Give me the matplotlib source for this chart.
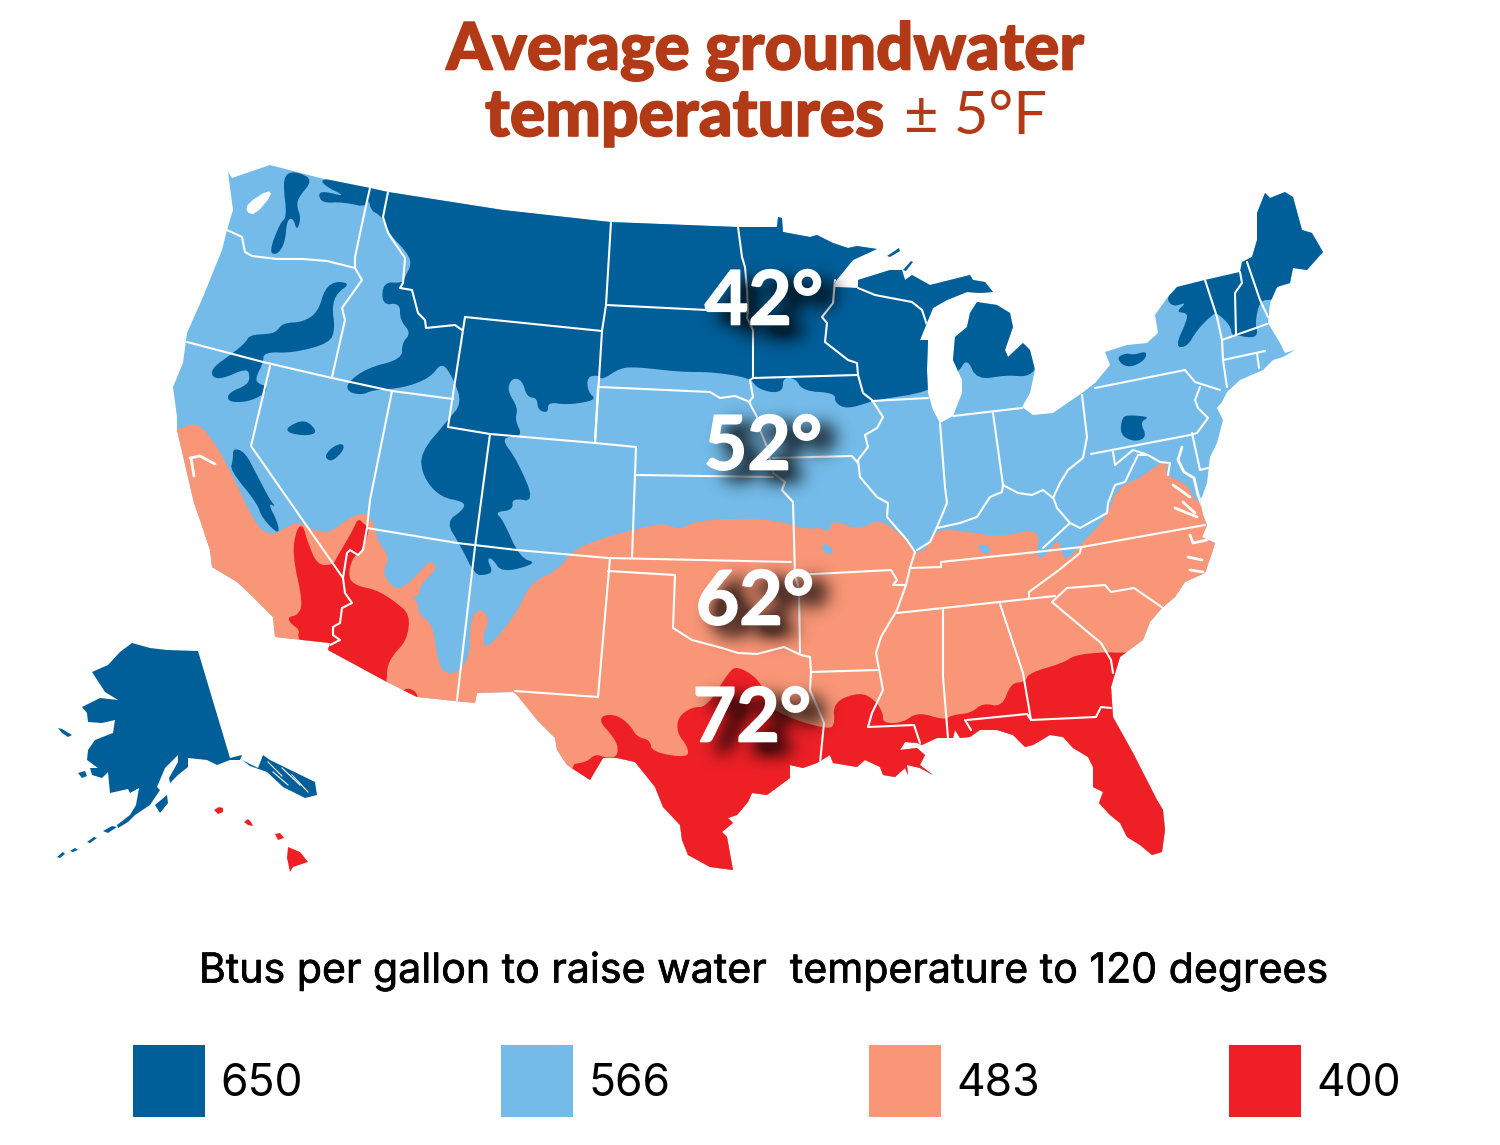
"""
Average groundwater temperatures map, drawn on pixel-sized axes.
"""

import matplotlib

matplotlib.use("Agg")
import matplotlib.patheffects as path_effects
import matplotlib.pyplot as plt
import numpy as np
from matplotlib.patches import Polygon, Rectangle

DARK_BLUE = "#005E99"
LIGHT_BLUE = "#74BBE9"
SALMON = "#F89677"
RED = "#EE2026"
TITLE_COLOR = "#B33A17"
SANS = "Inter"

LEGEND_VALUES = ["650", "566", "483", "400"]
LEGEND_COLORS = [DARK_BLUE, LIGHT_BLUE, SALMON, RED]
LEGEND_SWATCH_X = [133, 501, 869, 1229]
TEMPERATURE_LABELS = ["42°", "52°", "62°", "72°"]
TEMPERATURE_X = [764, 763, 755, 752]
TEMPERATURE_Y = [303, 448, 603, 720]

# Outline of the lower 48, clockwise from the Washington coast
CONUS_OUTLINE = [
    (228, 172), (232, 178), (270, 165), (320, 178), (370, 188), (388, 192), (503, 210), (610, 222), (738, 227),
    (777, 227), (778, 217), (782, 218), (783, 232), (810, 237), (817, 235), (833, 243), (848, 248),
    (857, 246), (877, 249), (853, 260), (835, 282), (833, 287), (858, 288), (858, 280), (890, 270),
    (902, 270), (905, 280), (912, 275), (930, 285), (950, 280), (970, 275), (973, 280), (985, 282),
    (993, 292), (980, 293), (967, 292), (947, 300), (933, 308), (920, 340), (928, 340), (927, 370),
    (928, 393), (933, 410), (940, 423), (953, 416), (962, 393), (962, 380), (953, 360), (955, 337),
    (967, 327), (970, 313), (977, 302), (997, 305), (1010, 313), (1013, 327), (1005, 350), (1008, 357),
    (1023, 343), (1030, 350), (1035, 370), (1030, 393), (1022, 407), (1033, 415), (1053, 413),
    (1082, 393), (1095, 383), (1110, 365), (1105, 352), (1127, 345), (1147, 343), (1158, 333),
    (1155, 315), (1167, 298), (1177, 287), (1205, 280), (1240, 272), (1242, 262), (1252, 257),
    (1257, 240), (1257, 213), (1265, 193), (1270, 198), (1285, 192), (1293, 197), (1302, 230),
    (1312, 233), (1323, 252), (1307, 270), (1293, 268), (1290, 283), (1277, 287), (1270, 303),
    (1268, 323), (1280, 343), (1285, 353), (1295, 350), (1283, 357), (1273, 360), (1263, 370),
    (1240, 380), (1227, 392), (1222, 402), (1217, 408), (1223, 420), (1217, 443), (1210, 457),
    (1207, 483), (1202, 497), (1200, 500), (1203, 515), (1207, 525), (1202, 537), (1215, 543),
    (1212, 553), (1205, 573), (1185, 582), (1175, 597), (1162, 608), (1150, 622), (1143, 640),
    (1120, 657), (1111, 687), (1113, 717), (1133, 753), (1157, 800), (1163, 810), (1165, 830),
    (1162, 852), (1152, 855), (1140, 845), (1127, 837), (1120, 823), (1110, 815), (1099, 803),
    (1103, 792), (1093, 787), (1093, 767), (1088, 757), (1073, 748), (1063, 737), (1050, 735),
    (1033, 745), (1025, 747), (1013, 735), (997, 730), (980, 730), (970, 737), (960, 738), (955, 730),
    (953, 738), (947, 738), (937, 738), (922, 745), (917, 743), (905, 742), (900, 750), (917, 748),
    (925, 755), (920, 765), (933, 775), (920, 768), (907, 765), (908, 775), (905, 768), (895, 777),
    (883, 775), (880, 767), (865, 760), (857, 767), (833, 763), (830, 755), (817, 763), (803, 768),
    (790, 765), (790, 778), (767, 795), (752, 793), (748, 802), (737, 815), (728, 818), (733, 823),
    (722, 832), (727, 837), (733, 870), (710, 867), (688, 855), (682, 840), (680, 825), (663, 807),
    (655, 787), (635, 762), (617, 758), (603, 758), (590, 780), (567, 765), (557, 750), (555, 738),
    (537, 720), (517, 695), (513, 692), (477, 693), (475, 703), (455, 701), (417, 697), (387, 682),
    (328, 650), (330, 643), (275, 637), (273, 617), (253, 597), (237, 582), (212, 567), (210, 550),
    (200, 520), (194, 503), (177, 430), (177, 417), (173, 387), (183, 363), (187, 333), (203, 297),
    (222, 250), (227, 230), (233, 210),
]

SALMON_REGION = [
    (150, 430), (177, 430), (197, 422), (213, 440), (230, 470), (247, 507), (260, 530), (273, 535),
    (285, 528), (298, 522), (313, 530), (330, 533), (350, 517), (367, 512), (375, 527), (377, 540),
    (390, 558), (382, 572), (393, 588), (403, 588), (420, 572), (430, 560), (438, 568), (420, 585),
    (420, 595), (412, 597), (418, 602), (418, 613), (433, 625), (437, 657), (443, 673), (457, 673),
    (470, 657), (470, 620), (480, 607), (490, 620), (483, 633), (485, 652), (517, 613), (530, 583),
    (558, 570), (573, 550), (603, 538), (633, 530), (663, 523), (680, 530), (697, 520), (767, 518),
    (810, 530), (817, 527), (830, 532), (832, 520), (860, 530), (880, 518), (907, 540), (915, 555),
    (928, 547), (938, 528), (967, 532), (1000, 537), (1040, 528), (1036, 557), (1044, 558), (1059, 537),
    (1063, 558), (1069, 558), (1082, 543), (1107, 517), (1117, 488), (1140, 478), (1160, 463),
    (1168, 463), (1165, 475), (1178, 480), (1190, 488), (1192, 497), (1210, 512), (1300, 512),
    (1300, 1000), (100, 1000), (100, 430),
]
SALMON_HOLES = [
    [(822, 545), (827, 544), (834, 551), (829, 555), (823, 551)],
    [(977, 546), (985, 544), (991, 549), (988, 555), (982, 552)],
]

RED_REGIONS = [
    [
        (297, 528), (303, 525), (307, 540), (317, 565), (333, 565), (337, 557), (353, 530), (358, 518),
        (365, 525), (370, 527), (363, 550), (352, 558), (348, 578), (357, 586), (377, 590), (397, 603),
        (410, 615), (407, 640), (393, 655), (387, 667), (387, 682), (380, 700), (320, 670), (297, 638),
        (300, 630), (290, 623), (288, 617), (298, 615), (303, 603), (292, 553),
    ],
    [(402, 690), (410, 688), (418, 694), (417, 705), (402, 705)],
    [
        (567, 765), (587, 762), (595, 754), (607, 758), (617, 757), (618, 745), (610, 733), (600, 722),
        (603, 715), (617, 715), (630, 725), (637, 737), (650, 740), (652, 752), (688, 758), (688, 747),
        (677, 733), (678, 717), (692, 707), (707, 707), (730, 670), (738, 667), (753, 675), (763, 687),
        (768, 707), (795, 720), (824, 728), (835, 727), (833, 702), (860, 692), (875, 700), (883, 713),
        (883, 723), (902, 723), (918, 712), (944, 720), (952, 715), (971, 713), (983, 703), (1002, 707),
        (1011, 683), (1025, 682), (1029, 673), (1063, 663), (1075, 655), (1105, 652), (1120, 653),
        (1300, 650), (1300, 1000), (500, 1000),
    ],
]

DARK_REGIONS = [
    # Northern plains, Rockies and upper Midwest
    [
        (370, 160), (367, 208), (383, 217), (390, 235), (405, 250), (412, 263), (405, 277), (403, 283),
        (383, 282), (382, 305), (400, 303), (400, 320), (411, 333), (402, 343), (402, 359), (367, 368),
        (347, 383), (348, 392), (362, 395), (373, 390), (403, 388), (430, 378), (442, 362), (453, 378),
        (462, 403), (448, 420), (420, 453), (423, 477), (440, 497), (465, 502), (463, 510), (446, 522),
        (460, 545), (475, 575), (485, 575), (493, 572), (487, 559), (492, 558), (502, 573), (538, 563),
        (520, 558), (503, 520), (495, 512), (513, 510), (512, 498), (535, 502), (517, 460), (500, 437),
        (523, 437), (515, 420), (518, 408), (507, 390), (512, 378), (522, 380), (527, 397), (537, 398),
        (538, 410), (548, 413), (548, 402), (568, 405), (597, 400), (588, 392), (587, 377), (598, 375),
        (602, 380), (620, 368), (637, 367), (680, 372), (713, 372), (750, 378), (757, 388), (773, 393),
        (783, 390), (783, 378), (795, 378), (803, 391), (835, 393), (835, 403), (847, 409), (870, 402),
        (877, 400), (928, 392), (958, 373), (967, 358), (977, 380), (1007, 375), (1027, 377), (1037, 368),
        (1060, 300), (1040, 200), (800, 170), (400, 150),
    ],
    # Washington
    [
        (287, 173), (298, 172), (313, 180), (298, 198), (297, 207), (301, 218), (297, 231), (293, 218),
        (287, 220), (285, 243), (277, 255), (269, 252), (280, 223), (287, 217), (283, 183),
    ],
    [
        (322, 178), (370, 180), (370, 208), (343, 202), (323, 203), (318, 195), (323, 191), (347, 197),
        (323, 185),
    ],
    # Oregon and northern California
    [
        (350, 284), (337, 281), (325, 288), (318, 312), (303, 322), (283, 323), (276, 332), (268, 334),
        (250, 335), (245, 343), (233, 353), (212, 368), (212, 377), (222, 379), (247, 368), (250, 377),
        (247, 385), (228, 393), (228, 402), (247, 402), (263, 395), (268, 387), (257, 383), (256, 377),
        (263, 363), (264, 352), (293, 353), (330, 343), (335, 328), (332, 307), (337, 293),
    ],
    # Nevada
    [(287, 427), (305, 419), (318, 432), (307, 436), (288, 433)],
    [(343, 443), (344, 450), (332, 462), (324, 457), (332, 447)],
    # Central California
    [
        (233, 448), (245, 452), (257, 475), (270, 500), (276, 507), (268, 503), (278, 523), (279, 535),
        (262, 518), (257, 503), (230, 470), (233, 460),
    ],
    # New York and Pennsylvania
    [
        (1117, 357), (1127, 353), (1133, 355), (1147, 351), (1145, 360), (1132, 367), (1122, 365),
    ],
    [
        (1122, 417), (1130, 415), (1150, 417), (1140, 422), (1147, 437), (1135, 442), (1120, 435),
    ],
    # New England
    [
        (1166, 298), (1177, 287), (1240, 180), (1340, 180), (1340, 290), (1273, 300), (1260, 300),
        (1255, 323), (1258, 334), (1252, 338), (1235, 335), (1232, 335), (1230, 325), (1217, 313),
        (1212, 315), (1197, 330), (1187, 347), (1175, 347), (1187, 320), (1187, 313), (1176, 312),
        (1187, 302), (1173, 307),
    ],
]
SUPERIOR_ISLANDS = [
    [(887, 256), (899, 248), (900, 251), (890, 257)],
    [(903, 270), (911, 261), (913, 262), (906, 271)],
]

ALASKA_PARTS = [
    [
        (132, 643), (150, 648), (167, 650), (198, 651), (230, 758), (242, 755), (240, 760), (230, 760),
        (217, 765), (207, 760), (188, 758), (188, 767), (178, 775), (170, 783), (169, 778), (178, 762),
        (178, 755), (165, 768), (157, 787), (160, 790), (150, 805), (135, 815), (128, 822), (118, 828),
        (117, 825), (130, 815), (136, 805), (139, 788), (130, 793), (128, 789), (110, 793), (108, 772),
        (102, 778), (92, 775), (90, 768), (98, 768), (87, 760), (88, 750), (95, 740), (113, 733),
        (115, 720), (102, 723), (88, 722), (87, 713), (82, 707), (100, 698), (118, 700), (105, 692),
        (92, 672), (108, 665), (120, 652),
    ],
    [(58, 728), (62, 729), (72, 735), (68, 737), (62, 733)],
    [(78, 773), (85, 771), (87, 776), (82, 778)],
    [(155, 805), (167, 795), (168, 803), (160, 813)],
    [(103, 831), (112, 826), (117, 827), (108, 833)],
    [(87, 842), (94, 837), (97, 838), (90, 843)],
    [(70, 851), (75, 848), (78, 850), (73, 852)],
    [(57, 857), (63, 852), (65, 854), (60, 858)],
    [(242, 760), (258, 768), (263, 755), (270, 760), (315, 782), (317, 795), (305, 798), (283, 787), (267, 772), (250, 766)],
]
ALASKA_FJORDS = [
    [(268, 762), (282, 776)],
    [(273, 772), (288, 785)],
    [(282, 768), (300, 785)],
    [(292, 775), (308, 792)],
]

HAWAII_PARTS = [
    [(214, 810), (219, 807), (223, 808), (223, 812), (218, 814)],
    [(244, 822), (248, 819), (251, 822), (253, 826), (248, 825)],
    [(275, 834), (280, 833), (284, 838), (278, 840)],
    [(288, 847), (300, 852), (308, 862), (293, 867), (290, 872), (287, 858)],
]

STATE_LINES = [
    [(227, 230), (242, 237), (245, 252), (252, 256), (277, 259), (303, 259), (327, 261), (355, 268)],
    [(370, 188), (365, 210), (355, 257), (355, 268), (362, 280), (342, 308), (345, 320), (332, 377)],
    [(187, 342), (263, 362), (332, 378), (392, 391), (453, 399)],
    [(270, 366), (251, 446), (343, 578)],
    [(392, 391), (370, 500), (367, 528), (363, 550), (358, 555), (350, 550), (347, 553), (343, 578),
     (345, 593), (352, 603), (342, 608), (340, 623), (333, 627), (333, 635), (340, 640), (330, 645)],
    [(388, 192), (383, 217), (388, 233), (405, 258), (403, 283), (400, 288), (412, 290), (418, 313),
     (425, 320), (426, 328), (455, 325), (462, 330)],
    [(465, 317), (602, 331), (595, 443), (490, 434), (448, 427), (465, 317)],
    [(611, 222), (606, 305), (602, 331)],
    [(606, 305), (707, 310), (748, 312)],
    [(738, 227), (742, 257), (745, 267), (747, 290), (748, 312), (747, 318), (753, 330), (753, 378),
     (750, 380), (753, 397), (749, 402), (757, 417), (760, 430), (767, 447), (773, 473), (785, 482),
     (782, 490), (793, 502), (795, 575), (799, 590), (800, 653)],
    [(600, 387), (710, 392), (720, 398), (735, 396), (750, 402)],
    [(753, 378), (857, 375)],
    [(835, 280), (833, 303), (822, 317), (827, 323), (825, 342), (848, 360), (857, 363), (858, 375),
     (863, 393), (872, 400), (883, 417), (877, 428), (865, 435), (868, 447), (858, 460), (860, 477),
     (877, 497), (888, 503), (887, 517), (907, 540), (915, 552), (910, 568), (906, 585)],
    [(858, 288), (875, 295), (912, 302), (922, 310), (927, 325)],
    [(872, 401), (928, 398)],
    [(773, 458), (852, 456), (858, 463)],
    [(636, 475), (773, 477)],
    [(636, 447), (635, 475), (632, 558)],
    [(598, 387), (595, 443)],
    [(595, 443), (636, 447)],
    [(367, 528), (457, 543), (517, 550), (608, 558), (791, 562)],
    [(490, 434), (475, 547), (457, 700)],
    [(610, 558), (598, 697), (515, 691)],
    [(608, 571), (675, 575), (673, 628), (692, 640), (722, 648), (738, 653), (757, 654), (784, 647),
     (801, 655), (810, 657), (811, 672), (810, 690), (824, 723), (820, 763)],
    [(795, 575), (891, 570), (897, 580), (893, 585), (906, 585), (897, 610), (881, 637), (876, 653),
     (883, 690), (872, 713), (868, 727), (914, 725), (920, 743)],
    [(811, 672), (877, 670)],
    [(897, 613), (1055, 596)],
    [(910, 568), (941, 567), (941, 562), (1036, 552), (1082, 547), (1205, 525)],
    [(943, 610), (943, 677), (948, 738)],
    [(1000, 604), (1023, 673), (1031, 720)],
    [(967, 720), (1027, 714), (1031, 720), (1096, 717), (1101, 707), (1111, 708)],
    [(965, 720), (971, 730)],
    [(1052, 602), (1065, 613), (1101, 643), (1111, 660), (1113, 673)],
    [(1052, 602), (1067, 588), (1105, 585), (1111, 592), (1134, 588), (1163, 608)],
    [(1029, 598), (1029, 592), (1059, 570), (1080, 553), (1081, 547)],
    [(940, 423), (945, 487), (947, 503), (937, 527), (930, 542), (917, 550)],
    [(937, 528), (960, 523), (977, 517), (990, 497), (1002, 492), (1003, 485), (1018, 493), (1032, 495),
     (1043, 490), (1053, 498), (1060, 483), (1068, 470), (1083, 458), (1087, 437), (1082, 395)],
    [(993, 413), (1003, 485)],
    [(953, 416), (1022, 408)],
    [(1053, 497), (1057, 508), (1070, 523), (1080, 528), (1107, 513), (1108, 503), (1115, 485),
     (1125, 482), (1138, 455), (1148, 455), (1160, 462), (1170, 463), (1168, 475)],
    [(1070, 523), (1043, 548)],
    [(1091, 454), (1190, 435)],
    [(1095, 388), (1185, 370), (1195, 382), (1220, 390)],
    [(1200, 387), (1195, 400), (1198, 408), (1208, 418), (1197, 433), (1190, 435)],
    [(1192, 433), (1200, 470), (1212, 467)],
    [(1113, 452), (1115, 465), (1133, 450), (1148, 455)],
    [(1205, 280), (1217, 317), (1222, 340), (1223, 360), (1227, 387)],
    [(1240, 272), (1242, 283), (1235, 293), (1236, 335)],
    [(1247, 262), (1260, 300), (1268, 317)],
    [(1222, 340), (1267, 324)],
    [(1223, 360), (1265, 351)],
    [(1257, 353), (1259, 368)],
]

# Bays and inlets left white inside the outline
WATER_LINES = [
    [(1182, 447), (1178, 460), (1184, 472), (1194, 478), (1198, 495), (1204, 510)],
    [(1225, 400), (1245, 392), (1258, 384)],
    [(1173, 485), (1190, 497)],
    [(1175, 508), (1197, 517)],
    [(1183, 502), (1195, 513)],
    [(1190, 535), (1193, 543), (1207, 540)],
    [(1188, 557), (1202, 560)],
    [(1190, 570), (1203, 572)],
    [(190, 458), (200, 456), (215, 464)],
    [(191, 458), (194, 476)],
]
PUGET_SOUND = [(248, 203), (268, 190), (272, 195), (255, 215), (246, 212)]


def smooth_ring(points: list, rounds: int = 2) -> np.ndarray:
    """
    Rounds the corners of a closed ring by corner cutting.
    """
    ring = np.asarray(points, dtype=float)
    for _ in range(rounds):
        following = np.roll(ring, -1, axis=0)
        ring = np.column_stack(
            [0.75 * ring + 0.25 * following, 0.25 * ring + 0.75 * following]
        ).reshape(-1, 2)
    return ring


def add_region(axis, points, color, clip_patch=None, rounds=2):
    """
    Adds one filled map region, optionally clipped to another patch.
    """
    patch = Polygon(smooth_ring(points, rounds), closed=True, facecolor=color, edgecolor="none")
    axis.add_patch(patch)
    if clip_patch is not None:
        patch.set_clip_path(clip_patch)
    return patch


def draw_lines(axis, lines, width, clip_patch):
    """
    Draws white polylines clipped to the outline.
    """
    for line in lines:
        xs, ys = zip(*line)
        drawn, = axis.plot(xs, ys, color="white", lw=width, solid_joinstyle="round", solid_capstyle="round")
        drawn.set_clip_path(clip_patch)


def draw_map(axis):
    """
    Draws the lower 48 plus Alaska and Hawaii.
    """
    outline = Polygon(CONUS_OUTLINE, closed=True, facecolor=LIGHT_BLUE, edgecolor="none")
    axis.add_patch(outline)

    for region in DARK_REGIONS:
        add_region(axis, region, DARK_BLUE, outline)
    add_region(axis, SALMON_REGION, SALMON, outline)
    for hole in SALMON_HOLES:
        add_region(axis, hole, LIGHT_BLUE, outline)
    for region in RED_REGIONS:
        add_region(axis, region, RED, outline)

    draw_lines(axis, STATE_LINES, 1.5, outline)
    draw_lines(axis, WATER_LINES, 2.0, outline)
    add_region(axis, PUGET_SOUND, "white", outline, rounds=1)

    for part in SUPERIOR_ISLANDS:
        axis.add_patch(Polygon(part, closed=True, facecolor=DARK_BLUE, edgecolor="none"))
    for part in ALASKA_PARTS:
        axis.add_patch(Polygon(part, closed=True, facecolor=DARK_BLUE, edgecolor="none"))
    for fjord in ALASKA_FJORDS:
        xs, ys = zip(*fjord)
        axis.plot(xs, ys, color="white", lw=0.8)
    for part in HAWAII_PARTS:
        axis.add_patch(Polygon(part, closed=True, facecolor=RED, edgecolor="none"))


def blur(values: np.ndarray, sigma: float) -> np.ndarray:
    """
    Gaussian blur of a 2D array, one axis at a time.
    """
    offsets = np.arange(-3 * int(sigma), 3 * int(sigma) + 1)
    kernel = np.exp(-0.5 * (offsets / sigma) ** 2)
    kernel /= kernel.sum()
    for axis_index in (0, 1):
        values = np.apply_along_axis(np.convolve, axis_index, values, kernel, mode="same")
    return values


def label_shadow(label: str) -> np.ndarray:
    """
    Renders a label off screen and returns a blurred black RGBA crop of it.
    """
    scratch = plt.figure(figsize=(2.6, 1.6), dpi=100)
    scratch.text(0.5, 0.5, label, color="black", fontsize=54, fontweight="bold", family="Lato",
                 ha="center", va="center")
    scratch.canvas.draw()
    mask = 1.0 - np.asarray(scratch.canvas.buffer_rgba())[:, :, 0] / 255.0
    plt.close(scratch)
    shade = np.clip(blur(mask, 9.0) * 1.5, 0, 0.65)
    rgba = np.zeros(shade.shape + (4,))
    rgba[:, :, 3] = shade
    return rgba


def draw_temperatures(axis):
    """
    Draws the white temperature labels with their soft offset shadow.
    """
    outline = [path_effects.withStroke(linewidth=1.2, foreground="white")]
    for label, x_pos, y_pos in zip(TEMPERATURE_LABELS, TEMPERATURE_X, TEMPERATURE_Y):
        shadow = label_shadow(label)
        height, width = shadow.shape[:2]
        center_x, center_y = x_pos + 15, y_pos + 10
        axis.imshow(shadow, extent=(center_x - width / 2, center_x + width / 2,
                                    center_y + height / 2, center_y - height / 2),
                    aspect="auto", zorder=3, interpolation="bilinear")
        axis.text(x_pos, y_pos, label, color="white", fontsize=54, fontweight="bold",
                  family="Lato", ha="center", va="center", zorder=4, path_effects=outline)
    axis.set_xlim(0, 1500)
    axis.set_ylim(1145, 0)


def draw_text_blocks(axis):
    """
    Draws the title, subtitle and legend.
    """
    heavy = [path_effects.withStroke(linewidth=1.2, foreground=TITLE_COLOR)]
    axis.text(765, 52, "Average groundwater", color=TITLE_COLOR, fontsize=47, fontweight="black",
              family="Lato", ha="center", va="center", path_effects=heavy)
    axis.text(485, 117, "temperatures", color=TITLE_COLOR, fontsize=47.5, fontweight="black",
              family="Lato", ha="left", va="center", path_effects=heavy)
    axis.text(904, 117, "± 5°F", color=TITLE_COLOR, fontsize=43, family="Lato", ha="left", va="center")

    medium = [path_effects.withStroke(linewidth=0.5, foreground="black")]
    axis.text(763, 971, "Btus per gallon to raise water  temperature to 120 degrees", color="black",
              fontsize=29.6, family=SANS, ha="center", va="center", path_effects=medium)

    for value, color, x_pos in zip(LEGEND_VALUES, LEGEND_COLORS, LEGEND_SWATCH_X):
        axis.add_patch(Rectangle((x_pos, 1045), 72, 72, facecolor=color, edgecolor="none"))
        axis.text(x_pos + 87, 1084, value, color="black", fontsize=32, family=SANS, ha="left", va="center")


def main() -> None:
    """
    Builds the figure and saves it.
    """
    fig = plt.figure(figsize=(15, 11.45), dpi=100)
    axis = fig.add_axes([0, 0, 1, 1])
    axis.set_xlim(0, 1500)
    axis.set_ylim(1145, 0)
    axis.axis("off")

    draw_map(axis)
    draw_temperatures(axis)
    draw_text_blocks(axis)

    fig.savefig("out.png", dpi=100)
    plt.close(fig)


main()
